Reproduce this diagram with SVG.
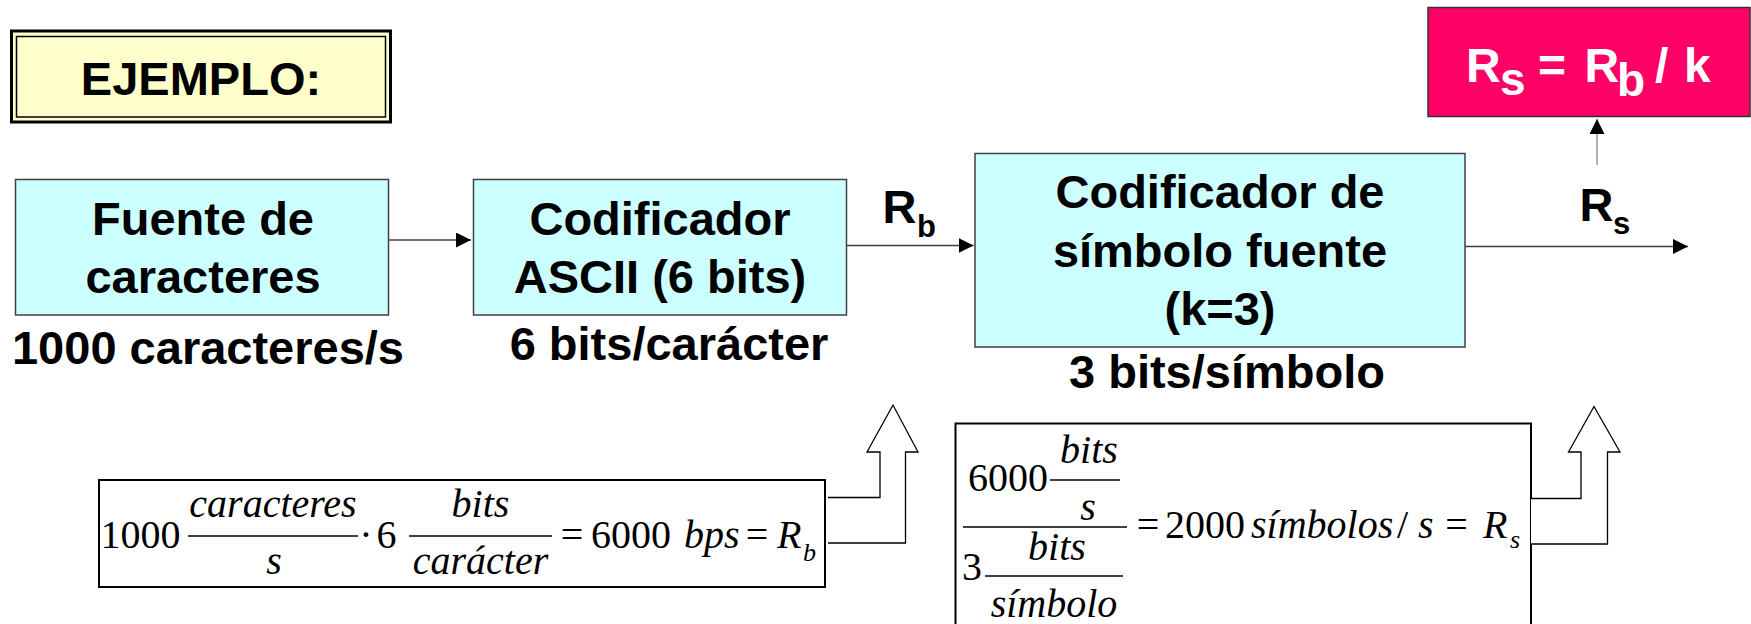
<svg xmlns="http://www.w3.org/2000/svg" width="1751" height="624" viewBox="0 0 1751 624">
<defs>
<style>
.blk{font-family:"Liberation Sans",Arial,sans-serif;font-weight:bold;font-size:47px;fill:#000}
.mid{text-anchor:middle}
.box{fill:#CCFFFF;stroke:#404040;stroke-width:1.5}
.conn{stroke:#404040;stroke-width:1.5;fill:none}
.frm{font-family:"Liberation Serif","Times New Roman",serif;font-size:40px;fill:#000}
.it{font-style:italic}
.fl{stroke:#000;stroke-width:1.6}
.fbox{fill:#fff;stroke:#000;stroke-width:2}
.hollow{fill:#fff;stroke:#000;stroke-width:1.3}
</style>
<marker id="ah" markerUnits="userSpaceOnUse" markerWidth="16" markerHeight="16" refX="15" refY="7.5" orient="auto">
<path d="M0,0 L15,7.5 L0,15 Z" fill="#000"/>
</marker>
</defs>
<rect width="1751" height="624" fill="#fff"/>

<g id="ejemplo">
<rect x="11.5" y="31" width="379" height="91" fill="#FFFFCC" stroke="#000" stroke-width="3"/>
<rect x="16.5" y="36.5" width="369" height="80.5" fill="none" stroke="#000" stroke-width="1.5"/>
<text class="blk mid" x="201" y="95">EJEMPLO:</text>
</g>

<g id="fuente">
<rect class="box" x="15.5" y="179.5" width="373" height="135.5"/>
<text class="blk mid" x="203" y="235">Fuente de</text>
<text class="blk mid" x="203" y="293">caracteres</text>
<text class="blk mid" x="208" y="364">1000 caracteres/s</text>
</g>

<g id="codificador-ascii">
<rect class="box" x="473.5" y="179.5" width="373" height="135.5"/>
<text class="blk mid" x="660" y="235">Codificador</text>
<text class="blk mid" x="660" y="293">ASCII (6 bits)</text>
<text class="blk mid" x="669" y="360">6 bits/carácter</text>
</g>

<g id="codificador-simbolo">
<rect class="box" x="975" y="153.5" width="490" height="193.5"/>
<text class="blk mid" x="1220" y="208">Codificador de</text>
<text class="blk mid" x="1220" y="267">símbolo fuente</text>
<text class="blk mid" x="1220" y="325">(k=3)</text>
<text class="blk mid" x="1227" y="388">3 bits/símbolo</text>
</g>

<g id="formula-rs">
<rect x="1428" y="7.5" width="322" height="109" fill="#FF0066" stroke="#333" stroke-width="1.5"/>
<text class="blk" style="fill:#fff;font-size:48px" y="82"><tspan x="1466">R</tspan><tspan x="1500" y="95" style="font-size:46px">s</tspan><tspan x="1538" y="82">=</tspan><tspan x="1584.5">R</tspan><tspan x="1617" y="96" style="font-size:46px">b</tspan><tspan x="1655" y="82">/</tspan><tspan x="1684">k</tspan></text>
</g>

<g id="formula1">
<rect class="fbox" x="99" y="480" width="726" height="107"/>
<text class="frm" x="100.6" y="548">1000</text>
<text class="frm it mid" x="273" y="517">caracteres</text>
<line class="fl" x1="188" y1="536" x2="358" y2="536"/>
<text class="frm it mid" x="274" y="574">s</text>
<text class="frm mid" x="366" y="548">·</text>
<text class="frm" x="376.5" y="548">6</text>
<text class="frm it mid" x="480.5" y="517">bits</text>
<line class="fl" x1="409" y1="536" x2="552" y2="536"/>
<text class="frm it mid" x="480.5" y="574">carácter</text>
<text class="frm mid" x="572" y="548">=</text>
<text class="frm" x="591" y="548">6000</text>
<text class="frm it" x="684" y="548">bps</text>
<text class="frm mid" x="757" y="548">=</text>
<text class="frm it" x="777" y="548">R</text>
<text class="frm it" x="803" y="561" style="font-size:26px">b</text>
</g>

<g id="formula2">
<rect class="fbox" x="955.5" y="423.5" width="575.5" height="230"/>
<text class="frm" x="968" y="491">6000</text>
<text class="frm it mid" x="1089" y="463">bits</text>
<line class="fl" x1="1050" y1="480" x2="1120" y2="480"/>
<text class="frm it mid" x="1088" y="520">s</text>
<line class="fl" x1="963" y1="527" x2="1127" y2="527"/>
<text class="frm" x="962" y="580">3</text>
<text class="frm it mid" x="1057" y="560">bits</text>
<line class="fl" x1="985" y1="576" x2="1123" y2="576"/>
<text class="frm it mid" x="1054" y="617">símbolo</text>
<text class="frm mid" x="1148" y="538">=</text>
<text class="frm" x="1165" y="538">2000</text>
<text class="frm it" x="1251" y="538">símbolos</text>
<text class="frm" x="1397" y="538">/</text>
<text class="frm it" x="1418" y="538">s</text>
<text class="frm mid" x="1456.5" y="538">=</text>
<text class="frm it" x="1483" y="538">R</text>
<text class="frm it" x="1510" y="548" style="font-size:26px">s</text>
</g>

<g id="connectors">
<line class="conn" x1="389" y1="240" x2="471" y2="240" marker-end="url(#ah)"/>
<line class="conn" x1="847" y1="245.5" x2="973.5" y2="245.5" marker-end="url(#ah)"/>
<line class="conn" x1="1465" y1="246.5" x2="1688" y2="246.5" marker-end="url(#ah)"/>
<line x1="1597" y1="165" x2="1597" y2="119" stroke="#999" stroke-width="1.5" marker-end="url(#ah)"/>
<text class="blk" x="882.5" y="223">R<tspan x="917" y="236.5" style="font-size:31px">b</tspan></text>
<text class="blk" x="1579.5" y="221">R<tspan x="1613" y="234" style="font-size:31px">s</tspan></text>
<path class="hollow" d="M828,497.5 H880 V452 H867 L893,405 L918,452 H905.5 V543 H828"/>
<path class="hollow" d="M1531,498.5 H1581 V452 H1568.5 L1594,406.5 L1620,452 H1607.5 V544 H1531"/>
</g>
</svg>
